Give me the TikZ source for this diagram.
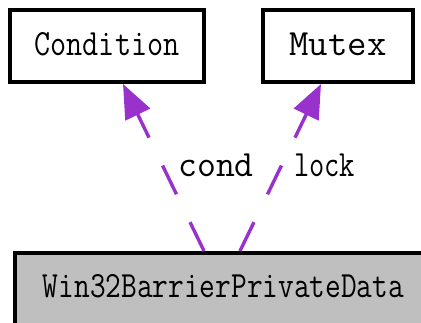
\documentclass[tikz,border=0pt]{standalone}
\usepackage{fontspec}
\usepackage{graphicx}
\usetikzlibrary{arrows.meta}
\definecolor{depcol}{HTML}{9932CC}
\definecolor{boxgray}{HTML}{BFBFBF}
\newcommand{\sqz}[2]{\scalebox{#1}[1]{#2}}
\tikzset{
  cls/.style={draw=black, line width=4pt, rectangle, inner sep=0pt,
    font=\ttfamily\fontsize{37}{40}\selectfont, text height=23pt, text depth=3pt},
  dep/.style={draw=depcol, line width=3.4pt, dash pattern=on 32pt off 31pt,
    -{Triangle[length=34pt,width=27pt,fill=depcol]}},
  lbl/.style={anchor=base, inner sep=0pt, font=\ttfamily\fontsize{37}{40}\selectfont}
}
\begin{document}
\begin{tikzpicture}[x=1pt,y=1pt]
\useasboundingbox (0,0) rectangle (421,323);
\clip (0,0) rectangle (421,323);
\node[cls, minimum width=194pt, minimum height=72pt] (cond) at (107,277) {\sqz{0.845}{Condition}};
\node[cls, minimum width=150pt, minimum height=72pt] (mutex) at (338,277) {\sqz{1.02}{Mutex}};
\node[cls, fill=boxgray, minimum width=417pt, minimum height=80pt, text depth=13pt] (w) at (223.5,30) {\sqz{0.824}{Win32BarrierPrivateData}};
\draw[dep] ([xshift=-19.5pt]w.north) -- ([xshift=16pt]cond.south);
\draw[dep] ([xshift=16.5pt]w.north) -- ([xshift=-17pt]mutex.south);
\node[lbl] (lc) at (216,146) {\sqz{0.99}{cond}};
\node[lbl] (ll) at (324.5,146) {\sqz{0.80}{lock}};
\end{tikzpicture}
\end{document}
